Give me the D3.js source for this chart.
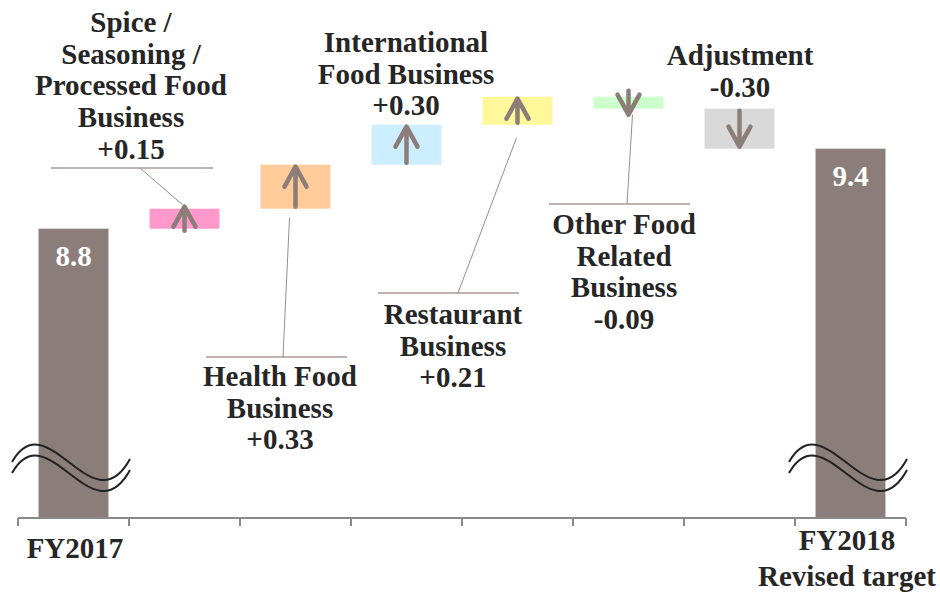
<!DOCTYPE html>
<html>
<head>
<meta charset="utf-8">
<script src="https://cdn.jsdelivr.net/npm/d3@7"></script>
<style>
  html, body { margin: 0; padding: 0; background: #fff; }
  svg { display: block; }
  text { font-family: "Liberation Serif", "Times New Roman", serif; font-weight: bold; }
</style>
</head>
<body>
<svg id="chart" width="940" height="595"></svg>
<script>
// ---------- data ----------
const categories = ["FY2017", "Spice", "Health", "International", "Restaurant", "Other", "Adjustment", "FY2018"];
const values = [8.8, 0.15, 0.33, 0.30, 0.21, -0.09, -0.30, 9.4];
const kinds = ["total", "step", "step", "step", "step", "step", "step", "total"];
const stepNames = [
  null,
  ["Spice /", "Seasoning /", "Processed Food", "Business"],
  ["Health Food", "Business"],
  ["International", "Food Business"],
  ["Restaurant", "Business"],
  ["Other Food", "Related", "Business"],
  ["Adjustment"],
  null
];
const axisLabels = [["FY2017"], [], [], [], [], [], [], ["FY2018", "Revised target"]];
const yDomain = [6.63, 10.5];

// ---------- styles / layout ----------
const fills = ["#8b7e7a", "#ff99cc", "#ffcc99", "#cceeff", "#fff799", "#ccffcc", "#d9d9d9", "#8b7e7a"];
const arrowColor = "#8c7d79";
const textColor = "#262626";
const leaderColor = "#a59a98";
const fontSize = 29;
const lineH = 31.7;
// annotation layout (pixel positions of label blocks and leader lines)
const annot = [
  null,
  { cx: 131, y0: 32, hline: [51, 213, 168], from: [140, 168], edge: "top", ex: -2, ey: -4 },
  { cx: 280, y0: 386, hline: [206, 347, 357], from: [283, 357], edge: "bottom", ex: -6, ey: 9 },
  { cx: 406, y0: 52 },
  { cx: 453, y0: 324, hline: [378, 519, 293], from: [458, 293], edge: "bottom", ex: -1, ey: 13 },
  { cx: 624, y0: 234, hline: [549, 690, 204], from: [627, 204], edge: "bottom", ex: 4, ey: 6 },
  { cx: 740, y0: 65 },
  null
];
const axisLabelPos = [{ cx: 75, y0: 558 }, null, null, null, null, null, null, { cx: 847, y0: 550 }];

const svg = d3.select("#chart");
const x = d3.scaleBand().domain(categories).range([18, 906]).padding(0);
const y = d3.scaleLinear().domain(yDomain).range([518, 518 - (yDomain[1] - yDomain[0]) * 133.33]);
const barW = x.bandwidth() * 0.63;

// compute waterfall extents
let running = 0;
const bars = categories.map((c, i) => {
  let lo, hi;
  if (kinds[i] === "total") { lo = yDomain[0]; hi = values[i]; running = values[i]; }
  else { const start = running; running += values[i]; lo = Math.min(start, running); hi = Math.max(start, running); }
  return { c, i, v: values[i], lo, hi, kind: kinds[i] };
});

// bars
svg.append("g").selectAll("rect").data(bars).join("rect")
  .attr("x", d => x(d.c) + (x.bandwidth() - barW) / 2)
  .attr("width", barW)
  .attr("y", d => y(d.hi))
  .attr("height", d => y(d.lo) - y(d.hi))
  .attr("fill", d => fills[d.i]);

// axis
const axisG = svg.append("g");
axisG.append("line").attr("x1", x.range()[0]).attr("x2", x.range()[1])
  .attr("y1", y(yDomain[0])).attr("y2", y(yDomain[0]))
  .attr("stroke", "#8a8a8a").attr("stroke-width", 2);
const tickXs = categories.map(c => x(c)).concat([x.range()[1]]);
axisG.selectAll("line.tick").data(tickXs).join("line").attr("class", "tick")
  .attr("x1", d => d).attr("x2", d => d)
  .attr("y1", y(yDomain[0])).attr("y2", y(yDomain[0]) + 8)
  .attr("stroke", "#8a8a8a").attr("stroke-width", 2);

// break marks on total bars
bars.filter(d => d.kind === "total").forEach(d => {
  const x0 = x(d.c) - 6, w = x.bandwidth() + 7, yb = 462;
  [0, 11].forEach(off => {
    const y0 = yb + off;
    svg.append("path")
      .attr("d", `M${x0},${y0} C${x0 + 0.3 * w},${y0 - 62} ${x0 + 0.68 * w},${y0 + 66} ${x0 + w},${y0 - 3}`)
      .attr("fill", "none").attr("stroke", "#222").attr("stroke-width", 2);
  });
});

// total value labels
svg.append("g").selectAll("text").data(bars.filter(d => d.kind === "total")).join("text")
  .attr("x", d => x(d.c) + x.bandwidth() / 2)
  .attr("y", d => y(d.hi) + 37)
  .attr("text-anchor", "middle").attr("fill", "#fff").attr("font-size", fontSize)
  .text(d => d.v.toFixed(1));

// arrows in step bars
bars.filter(d => d.kind === "step").forEach(d => {
  const cx = x(d.c) + x.bandwidth() / 2;
  const yTop = y(d.hi), yBot = y(d.lo);
  const mid = (yTop + yBot) / 2;
  const half = Math.max((yBot - yTop - 4) / 2, 12);
  const up = d.v > 0;
  const tip = up ? mid - half : mid + half;
  const tail = up ? mid + half : mid - half;
  const s = up ? 1 : -1;
  svg.append("path")
    .attr("d", `M${cx},${tail} L${cx},${tip} M${cx - 11},${tip + s * 20} L${cx},${tip} L${cx + 11},${tip + s * 20}`)
    .attr("fill", "none").attr("stroke", arrowColor).attr("stroke-width", 4.5)
    .attr("stroke-linecap", "round").attr("stroke-linejoin", "round");
});

// step labels and leaders
const fmt = v => (v > 0 ? "+" : "-") + Math.abs(v).toFixed(2);
bars.filter(d => d.kind === "step").forEach(d => {
  const a = annot[d.i];
  const lines = stepNames[d.i].concat([fmt(d.v)]);
  const t = svg.append("text").attr("text-anchor", "middle").attr("fill", textColor).attr("font-size", fontSize);
  lines.forEach((ln, k) => t.append("tspan").attr("x", a.cx).attr("y", a.y0 + k * lineH).text(ln));
  if (a.hline) {
    svg.append("line").attr("x1", a.hline[0]).attr("x2", a.hline[1]).attr("y1", a.hline[2]).attr("y2", a.hline[2])
      .attr("stroke", leaderColor).attr("stroke-width", 1.6);
    const cx = x(d.c) + x.bandwidth() / 2;
    const edgeY = a.edge === "top" ? y(d.hi) : y(d.lo);
    svg.append("line").attr("x1", a.from[0]).attr("y1", a.from[1])
      .attr("x2", cx + a.ex).attr("y2", edgeY + a.ey)
      .attr("stroke", "#9a8c8a").attr("stroke-width", 1);
  }
});

// category axis labels
categories.forEach((c, i) => {
  const p = axisLabelPos[i];
  if (!p) return;
  const t = svg.append("text").attr("text-anchor", "middle").attr("fill", textColor).attr("font-size", fontSize);
  axisLabels[i].forEach((ln, k) => t.append("tspan").attr("x", p.cx).attr("y", p.y0 + k * 36).text(ln));
});
</script>
</body>
</html>
